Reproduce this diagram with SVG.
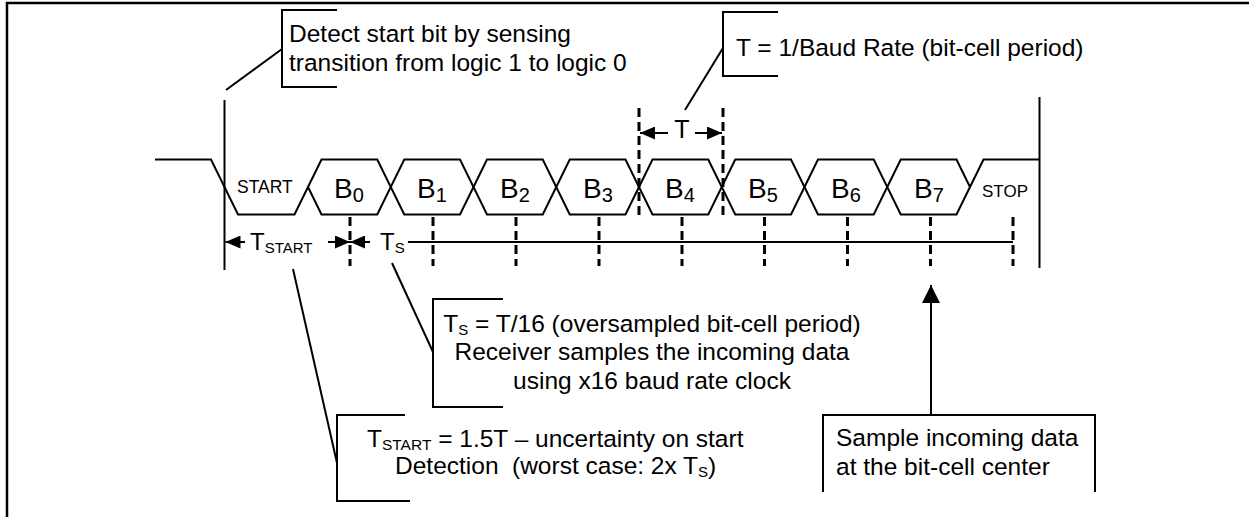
<svg xmlns="http://www.w3.org/2000/svg" width="1249" height="517" viewBox="0 0 1249 517">
<style>
text{font-family:"Liberation Sans",Arial,sans-serif;fill:#000}
.t{font-size:24.5px}
.lbl{font-size:24px}
.bit{font-size:28px}
.sm{font-size:17.5px}
.ln{fill:none;stroke:#000;stroke-width:2}
.dash{fill:none;stroke:#000;stroke-width:3;stroke-dasharray:9 5}
.wave{fill:none;stroke:#000;stroke-width:2;stroke-linejoin:miter}
</style>
<defs>
<marker id="ah" viewBox="0 0 15 13" refX="15" refY="6.5" markerWidth="15" markerHeight="13" markerUnits="userSpaceOnUse" orient="auto-start-reverse"><path d="M0,0 L15,6.5 L0,13 z" fill="#000"/></marker>
<marker id="ahBig" viewBox="0 0 18 18" refX="18" refY="9" markerWidth="18" markerHeight="18" markerUnits="userSpaceOnUse" orient="auto"><path d="M0,0 L18,9 L0,18 z" fill="#000"/></marker>
</defs>
<rect width="1249" height="517" fill="#fff"/>
<path d="M7,517 V3 H1249" fill="none" stroke="#000" stroke-width="2.5"/>

<g id="waveform">
<path class="wave" d="M155,159.5 H211 L238,214.5 H294.5 L308,187"/>
<polygon class="wave" points="308,187 321.5,159.5 377.25,159.5 390.75,187 377.25,214.5 321.5,214.5"/>
<polygon class="wave" points="390.75,187 404.25,159.5 460,159.5 473.5,187 460,214.5 404.25,214.5"/>
<polygon class="wave" points="473.5,187 487,159.5 542.75,159.5 556.25,187 542.75,214.5 487,214.5"/>
<polygon class="wave" points="556.25,187 569.75,159.5 625.5,159.5 639,187 625.5,214.5 569.75,214.5"/>
<polygon class="wave" points="639,187 652.5,159.5 708.25,159.5 721.75,187 708.25,214.5 652.5,214.5"/>
<polygon class="wave" points="721.75,187 735.25,159.5 791,159.5 804.5,187 791,214.5 735.25,214.5"/>
<polygon class="wave" points="804.5,187 818,159.5 873.75,159.5 887.25,187 873.75,214.5 818,214.5"/>
<polygon class="wave" points="887.25,187 900.75,159.5 956.5,159.5 970,187 956.5,214.5 900.75,214.5"/>
<path class="wave" d="M970,187 L983.5,159.5 H1039.5"/>
<text class="sm" x="237" y="193">START</text>
<text class="sm" x="982" y="197" style="font-size:17px">STOP</text>
<text class="bit" x="349" y="198" text-anchor="middle">B<tspan font-size="20" dy="4">0</tspan></text>
<text class="bit" x="432" y="198" text-anchor="middle">B<tspan font-size="20" dy="4">1</tspan></text>
<text class="bit" x="515" y="198" text-anchor="middle">B<tspan font-size="20" dy="4">2</tspan></text>
<text class="bit" x="598" y="198" text-anchor="middle">B<tspan font-size="20" dy="4">3</tspan></text>
<text class="bit" x="680" y="198" text-anchor="middle">B<tspan font-size="20" dy="4">4</tspan></text>
<text class="bit" x="763" y="198" text-anchor="middle">B<tspan font-size="20" dy="4">5</tspan></text>
<text class="bit" x="846" y="198" text-anchor="middle">B<tspan font-size="20" dy="4">6</tspan></text>
<text class="bit" x="929" y="198" text-anchor="middle">B<tspan font-size="20" dy="4">7</tspan></text>
</g>

<g id="frame-lines">
<line class="ln" x1="224.5" y1="100" x2="224.5" y2="270"/>
<line class="ln" x1="1039.5" y1="97" x2="1039.5" y2="268"/>
</g>

<g id="sample-marks">
<line class="dash" x1="350" y1="217" x2="350" y2="266"/>
<line class="dash" x1="433" y1="217" x2="433" y2="266"/>
<line class="dash" x1="516" y1="217" x2="516" y2="266"/>
<line class="dash" x1="599" y1="217" x2="599" y2="266"/>
<line class="dash" x1="682" y1="217" x2="682" y2="266"/>
<line class="dash" x1="764.5" y1="217" x2="764.5" y2="266"/>
<line class="dash" x1="847.5" y1="217" x2="847.5" y2="266"/>
<line class="dash" x1="930.5" y1="217" x2="930.5" y2="266"/>
<line class="dash" x1="1013" y1="217" x2="1013" y2="266"/>
<line class="dash" x1="639" y1="108" x2="639" y2="220"/>
<line class="dash" x1="723" y1="108" x2="723" y2="220"/>
</g>

<g id="connectors">
<line class="ln" x1="225.5" y1="242" x2="245" y2="242" marker-start="url(#ah)"/>
<line class="ln" x1="328" y1="242" x2="350" y2="242" marker-end="url(#ah)"/>
<line class="ln" x1="350" y1="242" x2="370" y2="242" marker-start="url(#ah)"/>
<line class="ln" x1="408" y1="242" x2="1013" y2="242"/>
<line class="ln" x1="640" y1="133" x2="668" y2="133" marker-start="url(#ah)"/>
<line class="ln" x1="695" y1="133" x2="722" y2="133" marker-end="url(#ah)"/>
<line class="ln" x1="282" y1="49" x2="226" y2="90"/>
<line class="ln" x1="723" y1="48" x2="685" y2="110"/>
<line class="ln" x1="433" y1="352" x2="392" y2="263"/>
<line class="ln" x1="337" y1="463" x2="293" y2="269"/>
<line class="ln" x1="931" y1="415" x2="931" y2="285" marker-end="url(#ahBig)"/>
</g>

<g id="labels">
<text class="lbl" x="250" y="250">T<tspan font-size="15" dy="3">START</tspan></text>
<text class="lbl" x="380" y="250">T<tspan font-size="15" dy="3">S</tspan></text>
<text class="lbl" x="682" y="138" text-anchor="middle" style="font-size:25px">T</text>
</g>

<g id="callout-detect">
<path class="ln" d="M337,10 H282 V87 H337"/>
<text class="t" x="289" y="42">Detect start bit by sensing</text>
<text class="t" x="289" y="71">transition from logic 1 to logic 0</text>
</g>

<g id="callout-period">
<path class="ln" d="M778,12 H723 V76 H778"/>
<text class="t" x="736" y="56">T = 1/Baud Rate (bit-cell period)</text>
</g>

<g id="callout-ts">
<path class="ln" d="M503,299 H433 V407 H503"/>
<text class="t" x="652" y="332" text-anchor="middle">T<tspan font-size="15" dy="3">S</tspan><tspan dy="-3"> = T/16 (oversampled bit-cell period)</tspan></text>
<text class="t" x="652" y="360" text-anchor="middle">Receiver samples the incoming data</text>
<text class="t" x="652" y="389" text-anchor="middle">using x16 baud rate clock</text>
</g>

<g id="callout-tstart">
<path class="ln" d="M405,415 H337 V501 H410"/>
<text class="t" x="367" y="447">T<tspan font-size="15.5" dy="3">START</tspan><tspan dy="-3"> = 1.5T – uncertainty on start</tspan></text>
<text class="t" x="395" y="474">Detection</text>
<text class="t" x="512" y="474">(worst case: 2x T<tspan font-size="15" dy="3">S</tspan><tspan dy="-3">)</tspan></text>
</g>

<g id="callout-sample">
<path class="ln" d="M823,492 V415 H1095 V492"/>
<text class="t" x="836" y="446">Sample incoming data</text>
<text class="t" x="836" y="475">at the bit-cell center</text>
</g>
</svg>
